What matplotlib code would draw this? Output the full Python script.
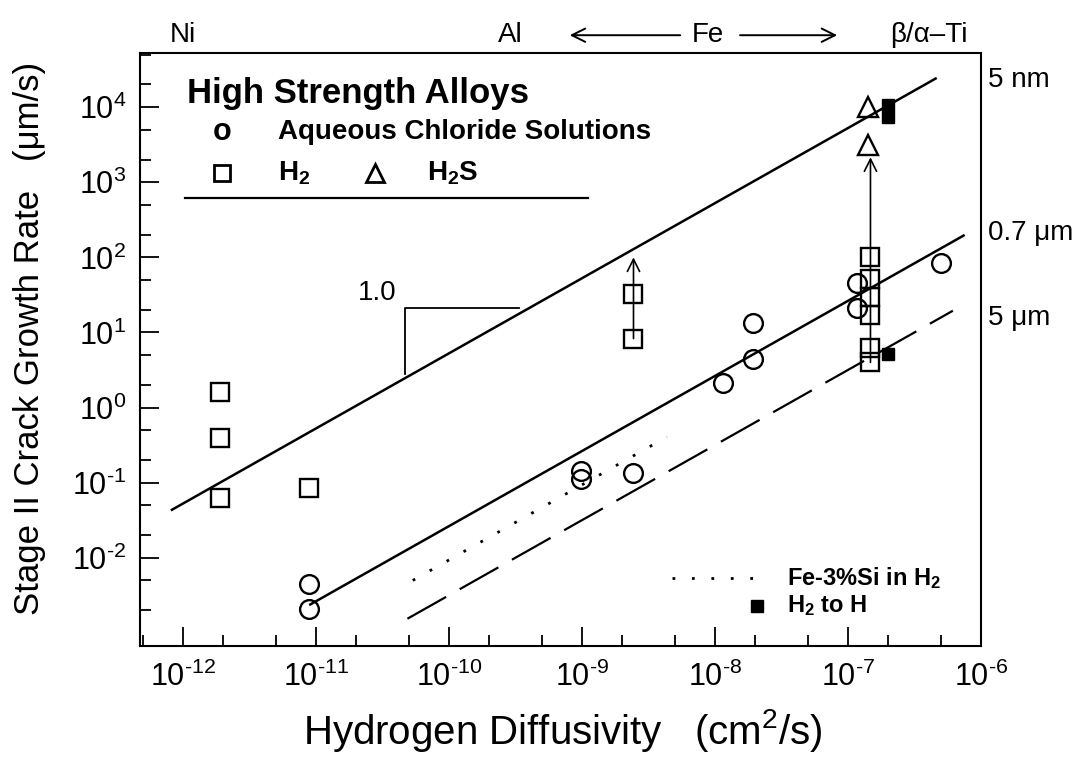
import numpy as np
import matplotlib
matplotlib.use('Agg')
import matplotlib.pyplot as plt
from matplotlib.ticker import LogLocator, FixedLocator, NullFormatter, FuncFormatter

plt.rcParams['font.family'] = ['Liberation Sans', 'DejaVu Sans']
plt.rcParams['mathtext.fontset'] = 'custom'
plt.rcParams['mathtext.rm'] = 'Liberation Sans'
plt.rcParams['mathtext.it'] = 'Liberation Sans:italic'
plt.rcParams['mathtext.bf'] = 'Liberation Sans:bold'

# aqueous chloride solutions (open circles)
chloride_D = [8.9e-12, 8.9e-12, 9.8e-10, 9.8e-10, 2.45e-9, 1.15e-8, 1.95e-8, 1.95e-8, 1.17e-7, 1.17e-7, 5.0e-7]
chloride_rate = [4.5e-3, 2.1e-3, 0.145, 0.112, 0.135, 2.1, 4.5, 13.5, 45, 21, 85]

# gaseous hydrogen (open squares)
h2_D = [1.9e-12, 1.9e-12, 1.9e-12, 8.9e-12, 2.45e-9, 2.45e-9,
        1.48e-7, 1.48e-7, 1.48e-7, 1.48e-7, 1.48e-7, 1.48e-7]
h2_rate = [1.6, 0.39, 0.063, 0.086, 33, 8.3, 100, 52, 30, 17, 6.3, 4.0]

# hydrogen sulfide (open triangles)
h2s_D = [1.43e-7, 1.43e-7]
h2s_rate = [1.0e4, 3100]

# H2 dissociated to atomic H (filled squares)
h_D = [2.0e-7, 2.0e-7, 2.0e-7]
h_rate = [1.07e4, 7400, 5.2]

# arrows: (D, start rate, end rate)
arrow_D = [2.45e-9, 1.48e-7]
arrow_from = [8.3, 4.0]
arrow_to = [100, 2150]

# bounding lines of unit slope: log(rate) = log(D) + offset
bound_offset = [10.72, 8.42, 7.5]
bound_Dmin = [10**-12.08, 10**-11.04, 10**-10.31]
bound_Dmax = [10**-6.34, 10**-6.13, 10**-6.21]
bound_label = ['5 nm', '0.7 μm', '5 μm']
bound_label_rate = [10**4.36, 10**2.33, 10**1.19]

# Fe-3%Si in H2
fesi_offset = 7.97
fesi_D = [10**-10.27, 10**-8.36]

# alloy classes along the top
top_label = ['Ni', 'Al', 'Fe', 'β/α–Ti']
top_label_D = [1e-12, 2.9e-10, 8.9e-9, 4.1e-7]
fe_arrow_from = [10**-8.26, 10**-7.81]
fe_arrow_to = [10**-9.09, 10**-7.08]

x_ticks = [1e-12, 1e-11, 1e-10, 1e-9, 1e-8, 1e-7, 1e-6]
y_ticks = [1e-2, 1e-1, 1, 10, 100, 1e3, 1e4]


def pow10(v, pos):
    # hyphen instead of a math minus in the exponent
    return r'$\mathdefault{10^{\text{%d}}}$' % round(np.log10(v))


fig = plt.figure(figsize=(10.92, 7.58), dpi=100)
ax = fig.add_axes([140/1092, 1-646/758, 841/1092, 593/758])
ax.set_xscale('log')
ax.set_yscale('log')
ax.set_xlim(10**-12.32, 10**-5.999)
ax.set_ylim(10**-3.173, 10**4.72)

for off, d0, d1 in zip(bound_offset[:2], bound_Dmin[:2], bound_Dmax[:2]):
    d = np.array([d0, d1])
    ax.plot(d, d*10**off, color='k', lw=1.8)
d = np.array([bound_Dmin[2], bound_Dmax[2]])
ax.plot(d, d*10**bound_offset[2], color='k', lw=1.6, dashes=(20, 7))
d = np.array(fesi_D)
ax.plot(d, d*10**fesi_offset, color='k', lw=2, dashes=(1, 6))

for lab, r in zip(bound_label, bound_label_rate):
    ax.text(1.008, r, lab, transform=ax.get_yaxis_transform(), fontsize=20,
            ha='left', va='center', clip_on=False)

for x, y0, y1 in zip(arrow_D, arrow_from, arrow_to):
    ax.annotate('', xy=(x, y1), xytext=(x, y0),
                arrowprops=dict(arrowstyle='->', color='k', lw=1.2,
                                mutation_scale=22, shrinkA=0, shrinkB=0))

ax.plot(chloride_D, chloride_rate, 'o', ms=13.5, mfc='none', mec='k', mew=1.7)
ax.plot(h2_D, h2_rate, 's', ms=13, mfc='none', mec='k', mew=1.7)
ax.plot(h2s_D, h2s_rate, '^', ms=15, mfc='none', mec='k', mew=1.7)
ax.plot(h_D, h_rate, 's', ms=9, color='k')

# slope indicator
ax.plot([10**-10.33, 10**-10.33, 10**-9.47], [10**0.45, 10**1.32, 10**1.32], color='k', lw=1.3)
ax.text(10**-10.54, 10**1.52, '1.0', fontsize=20, ha='center', va='center')

# key in upper left
ax.text(0.056, 0.932, 'High Strength Alloys', transform=ax.transAxes,
        fontsize=25, fontweight='bold', va='center')
ax.text(0.0975, 0.867, 'o', transform=ax.transAxes, fontsize=22,
        fontweight='bold', ha='center', va='center')
ax.text(0.164, 0.867, 'Aqueous Chloride Solutions', transform=ax.transAxes,
        fontsize=20, fontweight='bold', va='center')
ax.plot([0.0975], [0.797], 's', ms=12, mfc='none', mec='k', mew=2, transform=ax.transAxes)
ax.text(0.164, 0.797, r'H$_\mathbf{2}$', transform=ax.transAxes,
        fontsize=20, fontweight='bold', va='center')
ax.plot([0.279], [0.797], '^', ms=13, mfc='none', mec='k', mew=2, transform=ax.transAxes)
ax.text(0.341, 0.797, r'H$_\mathbf{2}$S', transform=ax.transAxes,
        fontsize=20, fontweight='bold', va='center')
ax.plot([0.0535, 0.533], [0.755, 0.755], color='k', lw=1.6, transform=ax.transAxes)

# key in lower right
ax.plot([0.633, 0.737], [0.115, 0.115], color='k', lw=2, dashes=(1, 6), transform=ax.transAxes)
ax.text(0.769, 0.115, r'Fe-3%Si in H$_\mathbf{2}$', transform=ax.transAxes,
        fontsize=17, fontweight='bold', va='center')
ax.plot([0.734], [0.068], 's', ms=8, color='k', transform=ax.transAxes)
ax.text(0.769, 0.068, r'H$_\mathbf{2}$ to H', transform=ax.transAxes,
        fontsize=17, fontweight='bold', va='center')

# alloy classes above the frame
for lab, x in zip(top_label, top_label_D):
    ax.text(x, 1.03, lab, transform=ax.get_xaxis_transform(), fontsize=20,
            ha='center', va='center', clip_on=False)
for x0, x1 in zip(fe_arrow_from, fe_arrow_to):
    ax.annotate('', xy=(x1, 1.03), xytext=(x0, 1.03), xycoords=ax.get_xaxis_transform(),
                textcoords=ax.get_xaxis_transform(),
                arrowprops=dict(arrowstyle='->', color='k', lw=1.4,
                                mutation_scale=24, shrinkA=0, shrinkB=0))

ax.xaxis.set_major_locator(FixedLocator(x_ticks))
ax.xaxis.set_minor_locator(LogLocator(base=10, subs=(2, 5), numticks=20))
ax.yaxis.set_major_locator(FixedLocator(y_ticks))
ax.yaxis.set_minor_locator(LogLocator(base=10, subs=(2, 5), numticks=20))
ax.xaxis.set_major_formatter(FuncFormatter(pow10))
ax.yaxis.set_major_formatter(FuncFormatter(pow10))
ax.xaxis.set_minor_formatter(NullFormatter())
ax.yaxis.set_minor_formatter(NullFormatter())
ax.tick_params(which='both', direction='in', top=False, right=False, width=1.3)
ax.tick_params(which='major', length=14, labelsize=22)
ax.tick_params(which='minor', length=8)
ax.tick_params(axis='x', which='major', pad=11)
ax.tick_params(axis='y', which='major', pad=10)
for s in ax.spines.values():
    s.set_linewidth(1.5)

fig.text(30/1092, 1-338/758, 'Stage II Crack Growth Rate   (μm/s)', rotation=90,
         fontsize=25, ha='center', va='center')
fig.text(563/1092, 1-730/758, 'Hydrogen Diffusivity   (cm$^2$/s)',
         fontsize=29, ha='center', va='center')

fig.savefig('out.png', dpi=100)
